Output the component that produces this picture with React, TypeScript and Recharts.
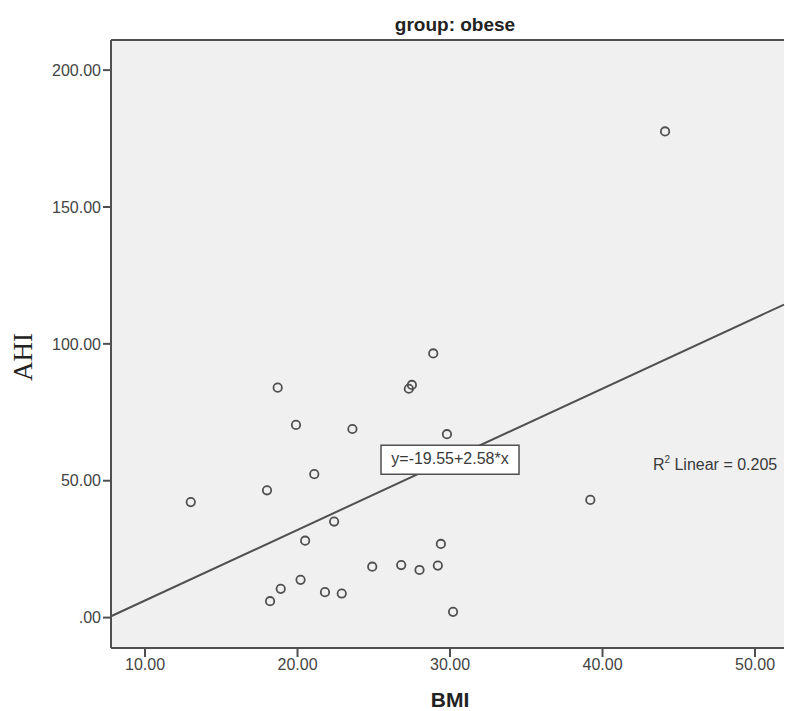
import {
  CartesianGrid,
  ReferenceDot,
  ReferenceLine,
  Scatter,
  ScatterChart,
  XAxis,
  YAxis,
} from 'recharts';

// BMI / AHI pairs for the obese group
const BMI = [
  44.1, 13.0, 18.0, 18.7, 19.9, 23.6, 21.1, 27.3, 27.5, 28.9, 29.8, 22.4, 20.5,
  29.4, 39.2, 24.9, 26.8, 28.0, 29.2, 20.2, 18.9, 18.2, 21.8, 22.9, 30.2,
];
const AHI = [
  177.6, 42.2, 46.5, 84.0, 70.4, 68.9, 52.4, 83.6, 85.0, 96.5, 67.0, 35.1, 28.1,
  26.9, 43.0, 18.6, 19.2, 17.4, 19.0, 13.8, 10.5, 6.0, 9.3, 8.8, 2.1,
];

const X_TICKS = [10, 20, 30, 40, 50];
const Y_TICKS = [0, 50, 100, 150, 200];
const X_DOMAIN: [number, number] = [7.77, 51.9];
const Y_DOMAIN: [number, number] = [-11.1, 211];

// fit line reported on the chart
const INTERCEPT = -19.55;
const SLOPE = 2.58;
const R_SQUARED = 0.205;

const INK = '#505050';
const fmt = (v: number) => (v === 0 ? '.00' : v.toFixed(2));
const fitAt = (x: number) => INTERCEPT + SLOPE * x;

const points = BMI.map((bmi, i) => ({ bmi, ahi: AHI[i] }));

function OpenCircle(props: any) {
  const { cx, cy } = props;
  if (cx == null || cy == null) return null;
  return <circle cx={cx} cy={cy} r={4.2} fill="none" stroke={INK} strokeWidth={1.8} />;
}

function EquationBox(props: any) {
  const { cx, cy } = props;
  return (
    <g>
      <rect x={cx - 69} y={cy - 14} width={138} height={29} fill="#fff" stroke={INK} strokeWidth={1.5} />
      <text
        x={cx}
        y={cy + 1}
        textAnchor="middle"
        dominantBaseline="middle"
        fontFamily="Liberation Sans, Arial, sans-serif"
        fontSize={16}
        fill="#3a3a3a"
      >
        {`y=${INTERCEPT.toFixed(2)}+${SLOPE.toFixed(2)}*x`}
      </text>
    </g>
  );
}

function RSquaredLabel(props: any) {
  const { cx, cy } = props;
  return (
    <text
      x={cx}
      y={cy}
      textAnchor="middle"
      dominantBaseline="middle"
      fontFamily="Liberation Sans, Arial, sans-serif"
      fontSize={16}
      fill="#3a3a3a"
    >
      R<tspan fontSize={10} dy={-6}>2</tspan>
      <tspan dy={6}>{` Linear = ${R_SQUARED.toFixed(3)}`}</tspan>
    </text>
  );
}

export default function App() {
  const tickStyle = { fill: '#444', fontSize: 16, fontFamily: 'Liberation Sans, Arial, sans-serif' };
  return (
    <div style={{ position: 'absolute', left: 0, top: 0, width: 785, height: 711, background: '#fff' }}>
      <ScatterChart width={785} height={711} margin={{ top: 40, right: 1, bottom: 0, left: 0 }}>
        <CartesianGrid fill="#f0f0f0" stroke="none" horizontal={false} vertical={false} />
        <XAxis
          type="number"
          dataKey="bmi"
          domain={X_DOMAIN}
          ticks={X_TICKS}
          allowDataOverflow
          height={63}
          tickFormatter={fmt}
          tick={tickStyle}
          tickSize={9}
          tickMargin={2}
          axisLine={{ stroke: INK, strokeWidth: 2 }}
          tickLine={{ stroke: INK, strokeWidth: 2 }}
        />
        <YAxis
          type="number"
          dataKey="ahi"
          domain={Y_DOMAIN}
          ticks={Y_TICKS}
          allowDataOverflow
          width={111}
          tickFormatter={fmt}
          tick={tickStyle}
          tickSize={8}
          tickMargin={2}
          axisLine={{ stroke: INK, strokeWidth: 2 }}
          tickLine={{ stroke: INK, strokeWidth: 2 }}
        />
        <ReferenceLine y={Y_DOMAIN[1]} stroke={INK} strokeWidth={2} />
        <ReferenceLine
          segment={[
            { x: X_DOMAIN[0], y: fitAt(X_DOMAIN[0]) },
            { x: X_DOMAIN[1], y: fitAt(X_DOMAIN[1]) },
          ]}
          stroke={INK}
          strokeWidth={2}
        />
        <ReferenceDot x={30} y={fitAt(30)} r={0} shape={EquationBox} />
        <ReferenceDot x={47.38} y={55.4} r={0} shape={RSquaredLabel} />
        <Scatter data={points} shape={OpenCircle} isAnimationActive={false} />
      </ScatterChart>
      <div
        style={{
          position: 'absolute',
          left: 355,
          top: 14,
          width: 200,
          textAlign: 'center',
          fontFamily: 'Liberation Sans, Arial, sans-serif',
          fontWeight: 'bold',
          fontSize: 19,
          color: '#222',
          lineHeight: '22px',
        }}
      >
        group: obese
      </div>
      <div
        style={{
          position: 'absolute',
          left: 23,
          top: 357,
          transform: 'translate(-50%, -50%) rotate(-90deg)',
          fontFamily: 'Liberation Serif, Times New Roman, serif',
          fontSize: 27,
          color: '#222',
          lineHeight: '30px',
          whiteSpace: 'nowrap',
        }}
      >
        AHI
      </div>
      <div
        style={{
          position: 'absolute',
          left: 350,
          top: 689,
          width: 200,
          textAlign: 'center',
          fontFamily: 'Liberation Sans, Arial, sans-serif',
          fontWeight: 'bold',
          fontSize: 21,
          color: '#222',
          lineHeight: '21px',
        }}
      >
        BMI
      </div>
    </div>
  );
}
